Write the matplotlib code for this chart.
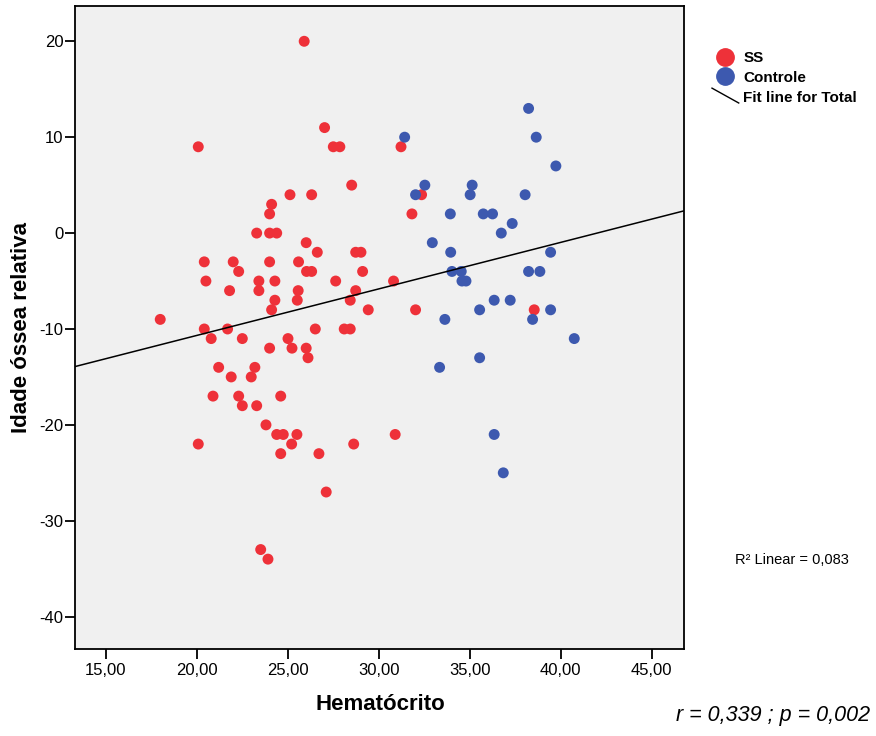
import numpy as np
import matplotlib
matplotlib.use("Agg")
import matplotlib.pyplot as plt
from matplotlib.lines import Line2D
from matplotlib.legend_handler import HandlerBase

plt.rcParams['font.family'] = ['Liberation Sans', 'DejaVu Sans']
plt.rcParams['axes.unicode_minus'] = False

# Hematócrito vs idade óssea relativa
ss_x = [25.91, 20.09, 27.51, 27.87, 31.23, 27.03, 28.52, 25.13, 26.32, 32.36,
        24.12, 24.01, 31.83, 23.30, 24.01, 24.40, 26.02, 26.63, 28.74, 29.03,
        20.42, 22.01, 24.01, 25.60, 22.31, 26.04, 26.32, 29.12, 20.51, 23.42,
        24.30, 27.64, 30.82, 21.81, 23.42, 25.58, 28.74, 24.30, 25.53, 28.44,
        24.12, 29.43, 32.03, 38.55, 18.00, 20.42, 21.70, 26.52, 28.11, 28.44,
        20.80, 22.51, 25.02, 24.01, 25.24, 26.02, 26.12, 21.21, 23.20, 21.90,
        23.00, 20.90, 22.31, 24.62, 22.51, 23.30, 23.81, 24.40, 24.76, 25.51,
        30.91, 20.09, 25.22, 28.63, 24.62, 26.72, 27.12, 23.52, 23.92]
ss_y = [20, 9, 9, 9, 9, 11, 5, 4, 4, 4,
        3, 2, 2, 0, 0, 0, -1, -2, -2, -2,
        -3, -3, -3, -3, -4, -4, -4, -4, -5, -5,
        -5, -5, -5, -6, -6, -6, -6, -7, -7, -7,
        -8, -8, -8, -8, -9, -10, -10, -10, -10, -10,
        -11, -11, -11, -12, -12, -12, -13, -14, -14, -15,
        -15, -17, -17, -17, -18, -18, -20, -21, -21, -21,
        -21, -22, -22, -22, -23, -23, -27, -33, -34]

ctrl_x = [38.24, 31.43, 38.66, 39.74, 32.54, 35.14, 32.03, 35.03, 38.05, 33.94,
          35.75, 36.26, 37.34, 36.74, 32.95, 33.96, 39.45, 34.03, 34.54, 38.24,
          38.86, 34.58, 34.80, 36.35, 37.23, 35.55, 39.45, 33.64, 38.46, 40.75,
          35.55, 33.35, 36.35, 36.85]
ctrl_y = [13, 10, 10, 7, 5, 5, 4, 4, 4, 2,
          2, 2, 1, 0, -1, -2, -2, -4, -4, -4,
          -4, -5, -5, -7, -7, -8, -8, -9, -9, -11,
          -13, -14, -21, -25]

x_ticks = [15, 20, 25, 30, 35, 40, 45]
y_ticks = [20, 10, 0, -10, -20, -30, -40]

red = '#EE3139'
blue = '#3D59AF'

fig = plt.figure(figsize=(8.76, 7.36), dpi=100)
ax = fig.add_axes([74.7 / 876, 1 - 649 / 736, (684 - 74.7) / 876, (649 - 6) / 736])
ax.set_facecolor('#F0F0F0')

ax.scatter(ss_x, ss_y, s=62, color=red, edgecolors='none', zorder=3)
ax.scatter(ctrl_x, ctrl_y, s=62, color=blue, edgecolors='none', zorder=3)

# fit line over all points
all_x = np.array(ss_x + ctrl_x)
all_y = np.array(ss_y + ctrl_y)
slope, intercept = np.polyfit(all_x, all_y, 1)
xlim = (13.3, 46.78)
xx = np.array(xlim)
ax.plot(xx, slope * xx + intercept, color='black', lw=1.1, zorder=4)

ax.set_xlim(*xlim)
ax.set_ylim(-43.37, 23.68)
ax.set_xticks(x_ticks)
ax.set_xticklabels([f"{v:.2f}".replace('.', ',') for v in x_ticks])
ax.set_yticks(y_ticks)
ax.set_yticklabels([str(v) for v in y_ticks])
ax.tick_params(direction='out', length=7, width=1.3, labelsize=12, colors='black')
ax.tick_params(axis='y', pad=1)
ax.tick_params(axis='x', pad=3)
for sp in ax.spines.values():
    sp.set_linewidth(1.3)

fig.text(380 / 876, 1 - 705 / 736, 'Hematócrito', ha='center', va='center',
         fontsize=16, fontweight='bold')
fig.text(22 / 876, 1 - 327 / 736, 'Idade óssea relativa', ha='center', va='center',
         fontsize=16, fontweight='bold', rotation=90)


class DiagHandler(HandlerBase):
    def create_artists(self, legend, orig_handle, xdescent, ydescent,
                       width, height, fontsize, trans):
        line = Line2D([-xdescent, width - xdescent], [height + 2, -ydescent - 1],
                      color='black', lw=1.0, transform=trans)
        return [line]


handles = [
    Line2D([], [], marker='o', ls='none', color=red, markersize=12.5),
    Line2D([], [], marker='o', ls='none', color=blue, markersize=12.5),
    Line2D([], [], color='black'),
]
labels = ['SS', 'Controle', 'Fit line for Total']
leg = fig.legend(handles, labels, loc='upper left', bbox_to_anchor=(712 / 876, 1 - 51 / 736),
                 frameon=False, prop={'weight': 'bold', 'size': 11},
                 handlelength=1.75, handletextpad=0.3, labelspacing=0.38,
                 borderaxespad=0, borderpad=0, handler_map={handles[2]: DiagHandler()})

fig.text(735 / 876, 1 - 560 / 736, 'R² Linear = 0,083', ha='left', va='center', fontsize=10.5)
fig.text(870 / 876, 1 - 716 / 736, 'r = 0,339 ; p = 0,002', ha='right', va='center',
         fontsize=15.5, style='italic')

fig.savefig('out.png', dpi=100)
